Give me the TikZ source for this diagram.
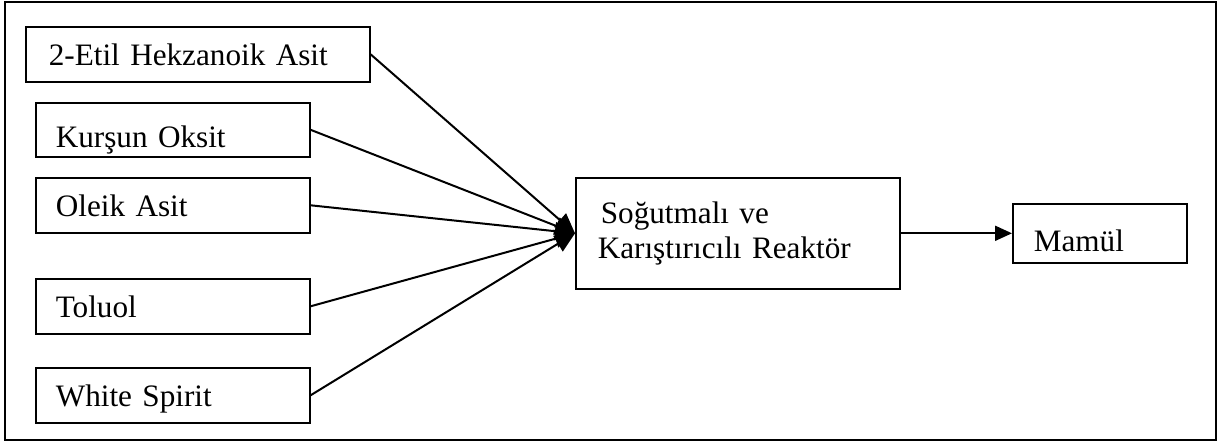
\documentclass[tikz,border=0pt]{standalone}
\usepackage{fontspec}
\setmainfont{Liberation Serif}
\usetikzlibrary{arrows.meta}

\begin{document}
\begin{tikzpicture}[x=0.5pt,y=-0.5pt,>={Triangle[length=10pt,width=9pt]},
   kutu/.style={draw,line width=0.8pt,anchor=north west,inner ysep=0pt,align=left,
      font=\fontsize{15.6}{17.8}\selectfont,text height=19.5pt,text depth=8pt}]
   % 外枠
   \useasboundingbox (0,0) rectangle (1222,444);
   \draw[line width=1pt] (5,2) rectangle (1216,440);

   % 原料
   \node[kutu,inner xsep=11.5pt,text width=149pt] (etil) at (25,26) {2-Etil Hekzanoik Asit};
   \node[kutu,inner xsep=10pt,text width=117pt,text height=22.5pt,text depth=4.5pt] (kursun) at (35,102) {Kurşun Oksit};
   \node[kutu,inner xsep=10pt,text width=117pt] (oleik) at (35,177) {Oleik Asit};
   \node[kutu,inner xsep=10pt,text width=117pt] (toluol) at (35,278) {Toluol};
   \node[kutu,inner xsep=10pt,text width=117pt] (spirit) at (35,367) {White Spirit};

   % 反応器と製品
   \node[kutu,text height=,text depth=,inner xsep=11pt,text width=140pt,minimum height=55.5pt] (reaktor) at (575,177)
      {\hspace{1.5pt}Soğutmalı ve\\Karıştırıcılı Reaktör};
   \node[kutu,inner xsep=10.5pt,text width=66pt,text height=24pt,text depth=5.5pt] (mamul) at (1012,203) {Mamül};

   \draw[->,line width=1pt] (etil.east) -- (reaktor.west);
   \draw[->,line width=1pt] (kursun.east) -- (reaktor.west);
   \draw[->,line width=1pt] (oleik.east) -- (reaktor.west);
   \draw[->,line width=1pt] (toluol.east) -- (reaktor.west);
   \draw[->,line width=1pt] (spirit.east) -- (reaktor.west);
   \draw[-{Triangle[length=8.5pt,width=7.5pt]},line width=1pt] (reaktor.east) -- (mamul.west);
\end{tikzpicture}
\end{document}
